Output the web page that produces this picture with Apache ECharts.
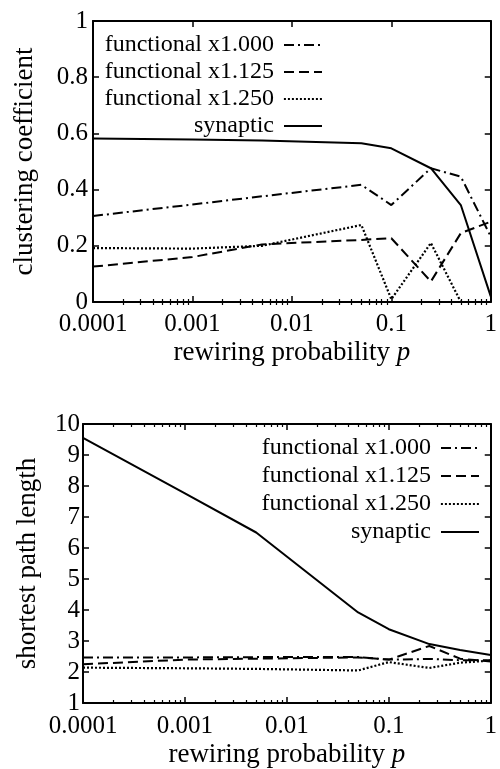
<!DOCTYPE html>
<html><head><meta charset="utf-8">
<script src="https://cdn.jsdelivr.net/npm/echarts@6/dist/echarts.min.js"></script>
<style>html,body{margin:0;padding:0;background:#fff}#c{width:500px;height:769px}</style>
</head><body><div id="c"></div>
<script>
// ---- data ----
const pValues = [0.0001, 0.001, 0.005, 0.05, 0.1, 0.25, 0.5, 1];
const seriesNames = ['functional x1.000', 'functional x1.125', 'functional x1.250', 'synaptic'];
const clustF1000 = [0.306, 0.347, 0.376, 0.417, 0.345, 0.476, 0.446, 0.233];
const clustF1125 = [0.126, 0.160, 0.205, 0.221, 0.227, 0.073, 0.245, 0.286];
const clustF1250 = [0.192, 0.190, 0.200, 0.274, 0.010, 0.210, 0.000, 0.000];
const clustSyn   = [0.582, 0.578, 0.575, 0.565, 0.547, 0.476, 0.345, 0.020];
const pathF1000  = [2.47, 2.47, 2.48, 2.48, 2.40, 2.42, 2.38, 2.38];
const pathF1125  = [2.25, 2.40, 2.43, 2.47, 2.40, 2.84, 2.43, 2.34];
const pathF1250  = [2.14, 2.12, 2.10, 2.05, 2.32, 2.13, 2.30, 2.37];
const pathSyn    = [9.55, 7.76, 6.50, 3.92, 3.38, 2.90, 2.71, 2.55];
const xTickValues = [0.0001, 0.001, 0.01, 0.1, 1];
const xTickLabels = ['0.0001', '0.001', '0.01', '0.1', '1'];
const clustTitle = 'clustering coefficient';
const pathTitle = 'shortest path length';
const xTitle = 'rewiring probability {i|p}';

// ---- styling ----
const FONT = 'Liberation Serif';
const BLACK = '#000';
const TICK_FS = 25, TITLE_FS = 27, LEGEND_FS = 24;
const dashTypes = [[10, 4, 2, 4], [10, 5], [2, 2], 'solid'];
const minorTicks = [];
for (let e = -4; e < 0; e++) for (let m = 2; m <= 9; m++) minorTicks.push(+(m * Math.pow(10, e)).toPrecision(3));

function xAxes(gridIndex, nameGap, labelMargin) {
  const base = {
    gridIndex, type: 'log', logBase: 10, min: 0.0001, max: 1,
    splitLine: { show: false },
    axisLine: { show: true, onZero: false, lineStyle: { color: BLACK, width: 2 } }
  };
  return [
    Object.assign({}, base, {
      position: 'bottom',
      axisTick: { inside: true, length: 6, customValues: xTickValues, lineStyle: { color: BLACK, width: 1.5 } },
      axisLabel: { customValues: xTickValues, margin: labelMargin, color: BLACK, fontFamily: FONT, fontSize: TICK_FS,
        formatter: v => xTickLabels[Math.round(Math.log10(v)) + 4] },
      name: xTitle, nameLocation: 'middle', nameGap: nameGap,
      nameTextStyle: { color: BLACK, fontFamily: FONT, fontSize: TITLE_FS,
        rich: { i: { fontStyle: 'italic', fontFamily: FONT, fontSize: TITLE_FS, color: BLACK } } }
    }),
    Object.assign({}, base, {
      position: 'top',
      axisTick: { inside: true, length: 6, customValues: xTickValues, lineStyle: { color: BLACK, width: 1.5 } },
      axisLabel: { show: false, customValues: xTickValues }
    }),
    Object.assign({}, base, {
      position: 'bottom', axisLine: { show: false },
      axisTick: { inside: true, length: 3, customValues: minorTicks, lineStyle: { color: BLACK, width: 1.2 } },
      axisLabel: { show: false, customValues: minorTicks }
    }),
    Object.assign({}, base, {
      position: 'top', axisLine: { show: false },
      axisTick: { inside: true, length: 3, customValues: minorTicks, lineStyle: { color: BLACK, width: 1.2 } },
      axisLabel: { show: false, customValues: minorTicks }
    })
  ];
}

function yAxes(gridIndex, min, max, interval, title, nameGap, labelMargin) {
  const base = {
    gridIndex, type: 'value', min, max, interval,
    splitLine: { show: false },
    axisLine: { show: true, onZero: false, lineStyle: { color: BLACK, width: 2 } },
    axisTick: { inside: true, length: 6, lineStyle: { color: BLACK, width: 1.5 } }
  };
  return [
    Object.assign({}, base, {
      position: 'left',
      axisLabel: { margin: labelMargin, color: BLACK, fontFamily: FONT, fontSize: TICK_FS },
      name: title, nameLocation: 'middle', nameGap: nameGap,
      nameTextStyle: { color: BLACK, fontFamily: FONT, fontSize: TITLE_FS }
    }),
    Object.assign({}, base, { position: 'right', axisLabel: { show: false } })
  ];
}

function lineSeries(name, values, xIdx, yIdx, k) {
  return {
    name, type: 'line', xAxisIndex: xIdx, yAxisIndex: yIdx,
    data: pValues.map((p, i) => [p, values[i]]),
    symbol: 'none', showSymbol: false, animation: false, silent: true,
    lineStyle: { color: BLACK, width: k === 2 ? 2.2 : 2, type: dashTypes[k] },
    itemStyle: { color: BLACK }
  };
}

function legendItem(name, right, centerY, k) {
  return {
    data: [name], orient: 'horizontal', align: 'right', right, top: centerY - 12,
    itemWidth: 38, itemHeight: 14, itemGap: 0, padding: 0, selectedMode: false,
    itemStyle: { color: 'transparent', borderColor: 'transparent', borderWidth: 0, opacity: 0 },
    lineStyle: { color: BLACK, width: k === 2 ? 2.2 : 2, type: dashTypes[k] },
    textStyle: { color: BLACK, fontFamily: FONT, fontSize: LEGEND_FS, lineHeight: 24, padding: [0, 5, 0, 0] }
  };
}

const clustSets = [clustF1000, clustF1125, clustF1250, clustSyn];
const pathSets = [pathF1000, pathF1125, pathF1250, pathSyn];
const topRows = [45, 72, 99, 126];
const botRows = [448, 476, 504, 532];

const option = {
  backgroundColor: '#fff',
  animation: false,
  grid: [
    { left: 93, top: 21, width: 406, height: 281 },
    { left: 83, top: 424, width: 416, height: 280 }
  ],
  xAxis: [...xAxes(0, 37, 10), ...xAxes(1, 38, 11)],
  yAxis: [...yAxes(0, 0, 1, 0.2, clustTitle, 55, 5), ...yAxes(1, 1, 10, 1, pathTitle, 42, 3)],
  legend: [
    ...seriesNames.map((n, k) => legendItem(n, 177, topRows[k], k)),
    ...seriesNames.map((n, k) => legendItem(n, 20, botRows[k], k))
  ],
  series: [
    ...clustSets.map((v, k) => lineSeries(seriesNames[k], v, 0, 0, k)),
    ...pathSets.map((v, k) => lineSeries(seriesNames[k], v, 4, 2, k))
  ]
};

const chart = echarts.init(document.getElementById('c'), null, { renderer: 'canvas' });
chart.setOption(option);
</script>
</body></html>
